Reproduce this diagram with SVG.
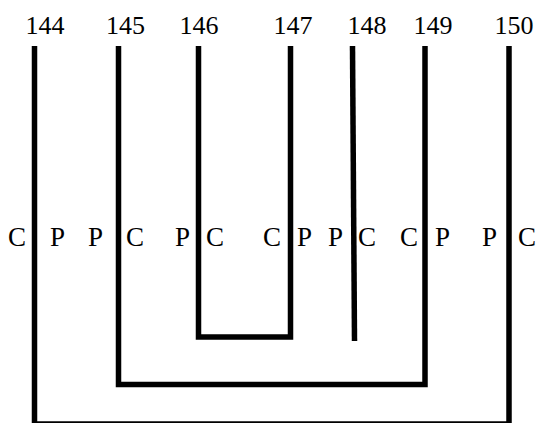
<svg xmlns="http://www.w3.org/2000/svg" width="541" height="423" viewBox="0 0 541 423">
<style>
.num{font-family:"Liberation Serif","Times New Roman",serif;font-size:26px;fill:#000;text-anchor:middle}
.lt{font-family:"Liberation Serif","Times New Roman",serif;font-size:27px;fill:#000}
.bond{fill:none;stroke:#000;stroke-width:5.5;stroke-linejoin:miter;stroke-linecap:butt}
</style>
<rect width="541" height="423" fill="#fff"/>
<g id="n144"><text class="num" x="45" y="34">144</text></g>
<g id="n145"><text class="num" x="125.5" y="34">145</text></g>
<g id="n146"><text class="num" x="199" y="34">146</text></g>
<g id="n147"><text class="num" x="293" y="34">147</text></g>
<g id="n148"><text class="num" x="367" y="34">148</text></g>
<g id="n149"><text class="num" x="433" y="34">149</text></g>
<g id="n150"><text class="num" x="514" y="34">150</text></g>
<g id="connectors">
<polyline class="bond" points="34.5,46 34.5,424 509,424 509,46"/>
<polyline class="bond" points="118.5,46 118.5,384.5 425,384.5 425,46"/>
<polyline class="bond" points="198.5,46 198.5,337 290.5,337 290.5,46"/>
<polyline class="bond" points="352.5,46 354.5,341"/>
</g>
<g id="labels">
<text class="lt" x="8" y="246">C</text>
<text class="lt" x="50" y="246">P</text>
<text class="lt" x="88" y="246">P</text>
<text class="lt" x="126" y="246">C</text>
<text class="lt" x="175" y="246">P</text>
<text class="lt" x="206" y="246">C</text>
<text class="lt" x="263" y="246">C</text>
<text class="lt" x="297" y="246">P</text>
<text class="lt" x="328" y="246">P</text>
<text class="lt" x="358" y="246">C</text>
<text class="lt" x="400" y="246">C</text>
<text class="lt" x="435" y="246">P</text>
<text class="lt" x="482" y="246">P</text>
<text class="lt" x="518" y="246">C</text>
</g>
</svg>
